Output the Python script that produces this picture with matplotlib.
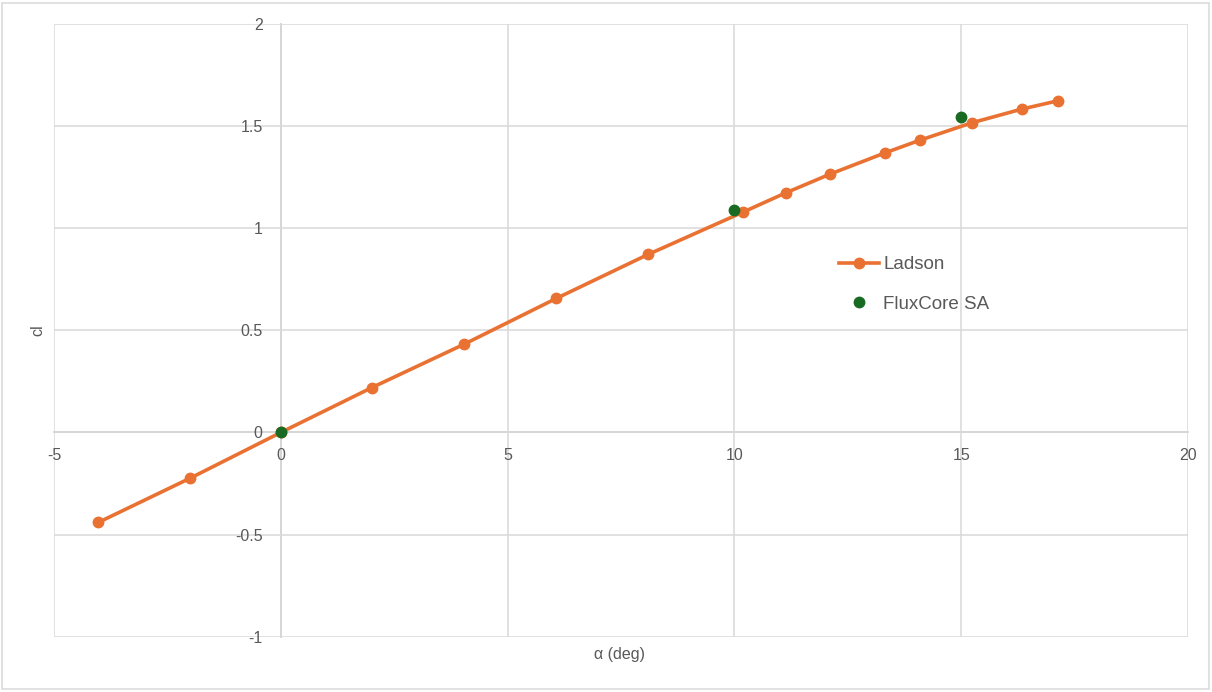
import matplotlib
matplotlib.use("Agg")
import matplotlib.pyplot as plt
from matplotlib.patches import Rectangle

ladson_alpha = [-4.02, -2.0, 0.0, 2.01, 4.04, 6.07, 8.1, 10.2, 11.13, 12.11, 13.32, 14.09, 15.23, 16.33, 17.13]
ladson_cl = [-0.440, -0.224, 0.0, 0.220, 0.432, 0.656, 0.872, 1.080, 1.173, 1.265, 1.369, 1.431, 1.516, 1.583, 1.624]
flux_alpha = [0.0, 10.0, 15.0]
flux_cl = [0.0, 1.088, 1.546]

x_ticks = [-5, 0, 5, 10, 15, 20]
y_ticks = [-1, -0.5, 0, 0.5, 1, 1.5, 2]
y_tick_labels = ["-1", "-0.5", "0", "0.5", "1", "1.5", "2"]

plt.rcParams['font.family'] = ['Liberation Sans', 'DejaVu Sans']
plt.rcParams['axes.unicode_minus'] = False
text_color = "#595959"

fig = plt.figure(figsize=(12.12, 6.92), dpi=100)
ax = fig.add_axes([54/1212, 1-636.7/692, (1188-54)/1212, (636.7-24)/692])

ax.set_xlim(-5, 20)
ax.set_ylim(-1, 2)
ax.set_xticks(x_ticks)
ax.set_yticks(y_ticks)
ax.set_yticklabels(y_tick_labels)
ax.grid(True, color="#d9d9d9", linewidth=1.1)
ax.set_axisbelow(True)

for s in ["top", "right"]:
    ax.spines[s].set_visible(False)
ax.spines["left"].set_position(("data", 0))
ax.spines["bottom"].set_position(("data", 0))
ax.spines["left"].set_color("#bfbfbf")
ax.spines["bottom"].set_color("#bfbfbf")
ax.spines["left"].set_linewidth(1.1)
ax.spines["bottom"].set_linewidth(1.1)
ax.spines["left"].set_zorder(0.5)
ax.spines["bottom"].set_zorder(0.5)
ax.tick_params(axis="both", length=0, labelsize=11.5, labelcolor=text_color)
ax.tick_params(axis="x", pad=11)
ax.tick_params(axis="y", pad=13)

ax.plot(ladson_alpha, ladson_cl, color="#E97132", linewidth=2.6, marker="o",
        markersize=7.5, label="Ladson", zorder=3)
ax.plot(flux_alpha, flux_cl, linestyle="none", color="#196B24", marker="o",
        markersize=7.5, label="FluxCore SA", zorder=4)

fig.text(620/1212, 1-655/692, "α (deg)", ha="center", va="center", fontsize=11.5, color=text_color)
fig.text(38/1212, 1-330/692, "cl", ha="center", va="center", rotation=90, fontsize=11.5, color=text_color)

leg = fig.legend(loc="upper left", bbox_to_anchor=(826/1212, 1-243/692), frameon=False,
                 fontsize=13.5, labelcolor=text_color, handlelength=2.1, handletextpad=0.25,
                 labelspacing=1.2, borderpad=0.2)

fig.patches.append(Rectangle((2/1212, 3/692), 1207/1212, 686/692, transform=fig.transFigure,
                             fill=False, edgecolor="#d9d9d9", linewidth=1.1))

fig.savefig("out.png", dpi=100)
